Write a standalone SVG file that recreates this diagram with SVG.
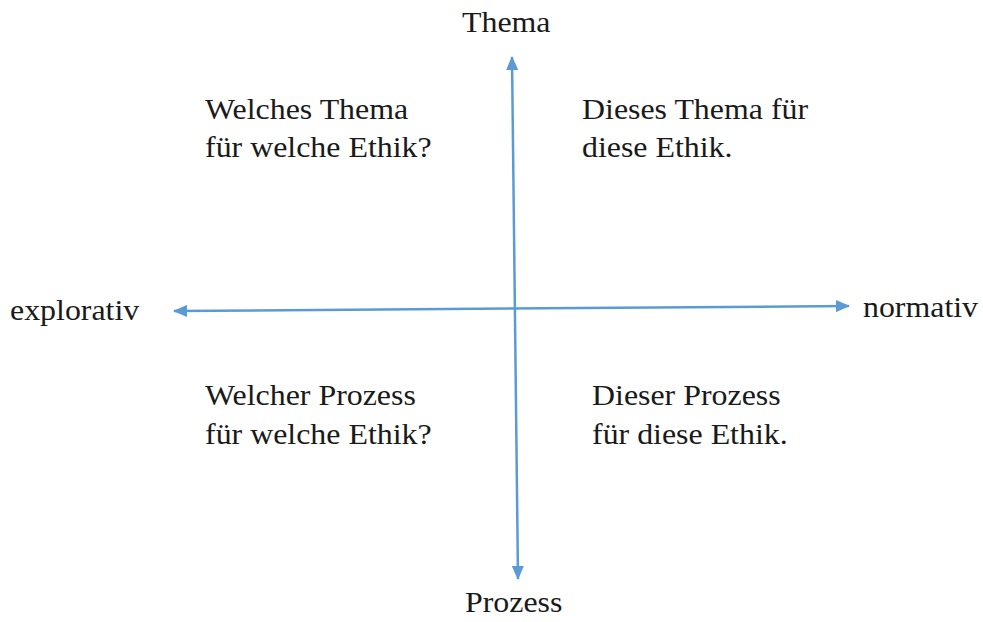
<svg xmlns="http://www.w3.org/2000/svg" width="983" height="622" viewBox="0 0 983 622">
<style>
.t{font-size:29px;fill:#1a1a1a}
.ax{stroke:#5B9BD5;stroke-width:2.5;fill:none}
</style>
<defs>
<marker id="ah" markerUnits="userSpaceOnUse" markerWidth="14" markerHeight="12" refX="13" refY="6" orient="auto-start-reverse">
<path d="M0,0 L14,6 L0,12 Z" fill="#5B9BD5"/>
</marker>
</defs>
<rect width="983" height="622" fill="#ffffff"/>
<g id="connectors">
<line class="ax" x1="518" y1="579" x2="512" y2="57" marker-start="url(#ah)" marker-end="url(#ah)"/>
<line class="ax" x1="174" y1="311" x2="849" y2="306" marker-start="url(#ah)" marker-end="url(#ah)"/>
</g>
<g transform="scale(1.1 1)" font-family="Liberation Serif, Times New Roman, serif">
<g id="thema"><text class="t" x="420" y="32">Thema</text></g>
<g id="prozess"><text class="t" x="422.7" y="612">Prozess</text></g>
<g id="explorativ"><text class="t" x="9.1" y="320">explorativ</text></g>
<g id="normativ"><text class="t" x="784.5" y="317">normativ</text></g>
<g id="q-top-left"><text class="t" x="186.4" y="119">Welches Thema</text><text class="t" x="186.4" y="157">für welche Ethik?</text></g>
<g id="q-top-right"><text class="t" x="529.1" y="119">Dieses Thema für</text><text class="t" x="529.1" y="157">diese Ethik.</text></g>
<g id="q-bottom-left"><text class="t" x="186.4" y="405">Welcher Prozess</text><text class="t" x="186.4" y="444">für welche Ethik?</text></g>
<g id="q-bottom-right"><text class="t" x="538.2" y="405">Dieser Prozess</text><text class="t" x="538.2" y="444">für diese Ethik.</text></g>
</g>
</svg>
